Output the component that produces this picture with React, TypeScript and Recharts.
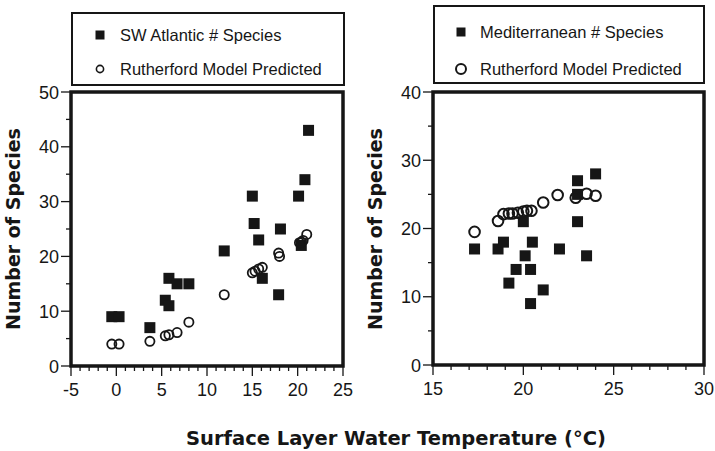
import { ScatterChart, Scatter, XAxis, YAxis, ReferenceArea, Legend } from "recharts";

// SW Atlantic panel
const atlanticTemp = [-0.5, 0.3, 3.7, 5.4, 5.8, 5.8, 6.7, 8.0, 11.9, 15.0, 15.2, 15.7, 16.1, 18.1, 17.9, 20.1, 20.8, 21.2, 20.4];
const atlanticSpecies = [9, 9, 7, 12, 11, 16, 15, 15, 21, 31, 26, 23, 16, 25, 13, 31, 34, 43, 22];
const atlanticModelTemp = [-0.5, 0.3, 3.7, 5.4, 5.8, 6.7, 8.0, 11.9, 15.0, 15.3, 15.7, 16.1, 17.9, 18.0, 20.2, 20.4, 20.6, 21.0];
const atlanticModelSpecies = [4, 4, 4.5, 5.5, 5.7, 6.1, 8, 13, 17, 17.3, 17.7, 18, 20.6, 20, 22.5, 22.6, 22.9, 24];

// Mediterranean panel
const medTemp = [17.3, 18.6, 18.9, 19.2, 19.6, 20.0, 20.1, 20.4, 20.5, 20.4, 21.1, 22.0, 23.0, 23.0, 23.0, 23.5, 24.0];
const medSpecies = [17, 17, 18, 12, 14, 21, 16, 14, 18, 9, 11, 17, 27, 25, 21, 16, 28];
const medModelTemp = [17.3, 18.6, 18.9, 19.2, 19.4, 19.7, 20.0, 20.2, 20.45, 21.1, 21.9, 22.9, 23.5, 24.0];
const medModelSpecies = [19.5, 21.1, 22.1, 22.2, 22.2, 22.3, 22.5, 22.6, 22.6, 23.8, 24.9, 24.5, 25.1, 24.8];

const leftXTicks = [-5, -4, -3, -2, -1, 0, 1, 2, 3, 4, 5, 6, 7, 8, 9, 10, 11, 12, 13, 14, 15, 16, 17, 18, 19, 20, 21, 22, 23, 24, 25];
const leftYTicks = [0, 5, 10, 15, 20, 25, 30, 35, 40, 45, 50];
const rightXTicks = [15, 16, 17, 18, 19, 20, 21, 22, 23, 24, 25, 26, 27, 28, 29, 30];
const rightYTicks = [0, 5, 10, 15, 20, 25, 30, 35, 40];

const FONT = "'Liberation Sans', Arial, Helvetica, sans-serif";
const BOLD_FONT = "'DejaVu Sans', 'Liberation Sans', Arial, sans-serif";
const INK = "#161616";

const pairs = (xs: number[], ys: number[]) => xs.map((x, i) => ({ x, y: ys[i] }));

const XTick = (props: any) => {
  const { x, y, payload } = props;
  const major = payload.value % 5 === 0;
  return (
    <g>
      <line x1={x} y1={y} x2={x} y2={y + (major ? 10 : 5)} stroke={INK} strokeWidth={1.3} />
      {major && (
        <text x={x} y={y + 30} textAnchor="middle" fontFamily={FONT} fontSize={18} fill={INK}>
          {payload.value}
        </text>
      )}
    </g>
  );
};

const YTick = (props: any) => {
  const { x, y, payload } = props;
  const major = payload.value % 10 === 0;
  return (
    <g>
      <line x1={x - (major ? 10 : 5)} y1={y} x2={x} y2={y} stroke={INK} strokeWidth={1.3} />
      {major && (
        <text x={x - 12} y={y + 6.5} textAnchor="end" fontFamily={FONT} fontSize={18} fill={INK}>
          {payload.value}
        </text>
      )}
    </g>
  );
};

const square = (s: number) => (p: any) => (
  <rect x={p.cx - s / 2} y={p.cy - s / 2} width={s} height={s} fill={INK} />
);
const ring = (r: number, w: number) => (p: any) => (
  <circle cx={p.cx} cy={p.cy} r={r} fill="none" stroke={INK} strokeWidth={w} />
);

const yTitle = (cx: number) => () => (
  <text
    x={cx}
    y={229}
    transform={`rotate(-90 ${cx} 229)`}
    textAnchor="middle"
    fontFamily={BOLD_FONT}
    fontWeight="bold"
    fontSize={19}
    fill={INK}
  >
    Number of Species
  </text>
);

const legendBox = (rows: { label: string; marker: "square" | "ring" }[], opts: any) => () => (
  <div
    style={{
      boxSizing: "border-box",
      width: opts.w,
      height: opts.h,
      border: `2px solid ${INK}`,
      background: "#fff",
      fontFamily: FONT,
      fontSize: 16.5,
      color: INK,
      position: "relative",
    }}
  >
    {rows.map((r, i) => (
      <div key={r.label} style={{ position: "absolute", left: 0, top: opts.rowY[i] - 11, height: 22, lineHeight: "22px", width: "100%" }}>
        <svg width={20} height={22} style={{ position: "absolute", left: opts.markX - 10, top: 0 }}>
          {r.marker === "square" ? (
            <rect x={10 - opts.sq / 2} y={11 - opts.sq / 2} width={opts.sq} height={opts.sq} fill={INK} />
          ) : (
            <circle cx={10} cy={11} r={opts.cr} fill="none" stroke={INK} strokeWidth={opts.cw} />
          )}
        </svg>
        <span style={{ position: "absolute", left: opts.textX, whiteSpace: "nowrap" }}>{r.label}</span>
      </div>
    ))}
  </div>
);

export default function App() {
  return (
    <div style={{ position: "absolute", left: 0, top: 0, width: 715, height: 451, background: "#fff", overflow: "hidden" }}>
      <div style={{ position: "absolute", left: 0, top: 0 }}>
        <ScatterChart width={360} height={451} margin={{ top: 92, right: 17, bottom: 55, left: 0 }}>
          <XAxis
            type="number"
            dataKey="x"
            domain={[-5, 25]}
            ticks={leftXTicks}
            interval={0}
            height={30}
            axisLine={false}
            tickLine={false}
            tickSize={0}
            tickMargin={0}
            tick={<XTick />}
          />
          <YAxis
            type="number"
            dataKey="y"
            domain={[0, 50]}
            ticks={leftYTicks}
            interval={0}
            width={71}
            axisLine={false}
            tickLine={false}
            tickSize={0}
            tickMargin={0}
            tick={<YTick />}
            label={{ content: yTitle(20) }}
          />
          <ReferenceArea x1={-5} x2={25} y1={0} y2={50} fill="none" stroke={INK} strokeWidth={3.5} />
          <Scatter name="SW Atlantic # Species" data={pairs(atlanticTemp, atlanticSpecies)} shape={square(11)} isAnimationActive={false} />
          <Scatter name="Rutherford Model Predicted" data={pairs(atlanticModelTemp, atlanticModelSpecies)} shape={ring(4.6, 1.8)} isAnimationActive={false} />
          <Legend
            layout="vertical"
            align="center"
            verticalAlign="middle"
            wrapperStyle={{ left: 71, top: 12, width: 274, height: 74 }}
            content={legendBox(
              [
                { label: "SW Atlantic # Species", marker: "square" },
                { label: "Rutherford Model Predicted", marker: "ring" },
              ],
              { w: 274, h: 74, rowY: [21, 55], markX: 27, textX: 47, sq: 9, cr: 3.6, cw: 1.6 }
            )}
          />
        </ScatterChart>
      </div>
      <div style={{ position: "absolute", left: 360, top: 0 }}>
        <ScatterChart width={355} height={451} margin={{ top: 92, right: 11, bottom: 56, left: 0 }}>
          <XAxis
            type="number"
            dataKey="x"
            domain={[15, 30]}
            ticks={rightXTicks}
            interval={0}
            height={30}
            axisLine={false}
            tickLine={false}
            tickSize={0}
            tickMargin={0}
            tick={<XTick />}
          />
          <YAxis
            type="number"
            dataKey="y"
            domain={[0, 40]}
            ticks={rightYTicks}
            interval={0}
            width={73}
            axisLine={false}
            tickLine={false}
            tickSize={0}
            tickMargin={0}
            tick={<YTick />}
            label={{ content: yTitle(22) }}
          />
          <ReferenceArea x1={15} x2={30} y1={0} y2={40} fill="none" stroke={INK} strokeWidth={3.5} />
          <Scatter name="Mediterranean # Species" data={pairs(medTemp, medSpecies)} shape={square(11)} isAnimationActive={false} />
          <Scatter name="Rutherford Model Predicted" data={pairs(medModelTemp, medModelSpecies)} shape={ring(5.3, 2)} isAnimationActive={false} />
          <Legend
            layout="vertical"
            align="center"
            verticalAlign="middle"
            wrapperStyle={{ left: 73, top: 5, width: 272, height: 79 }}
            content={legendBox(
              [
                { label: "Mediterranean # Species", marker: "square" },
                { label: "Rutherford Model Predicted", marker: "ring" },
              ],
              { w: 272, h: 79, rowY: [25, 62], markX: 26, textX: 45, sq: 9, cr: 5, cw: 2 }
            )}
          />
        </ScatterChart>
      </div>
      <div
        style={{
          position: "absolute",
          left: 150,
          top: 427,
          width: 492,
          textAlign: "center",
          fontFamily: BOLD_FONT,
          fontWeight: "bold",
          fontSize: 19.5,
          color: INK,
          whiteSpace: "nowrap",
        }}
      >
        Surface Layer Water Temperature (°C)
      </div>
    </div>
  );
}
